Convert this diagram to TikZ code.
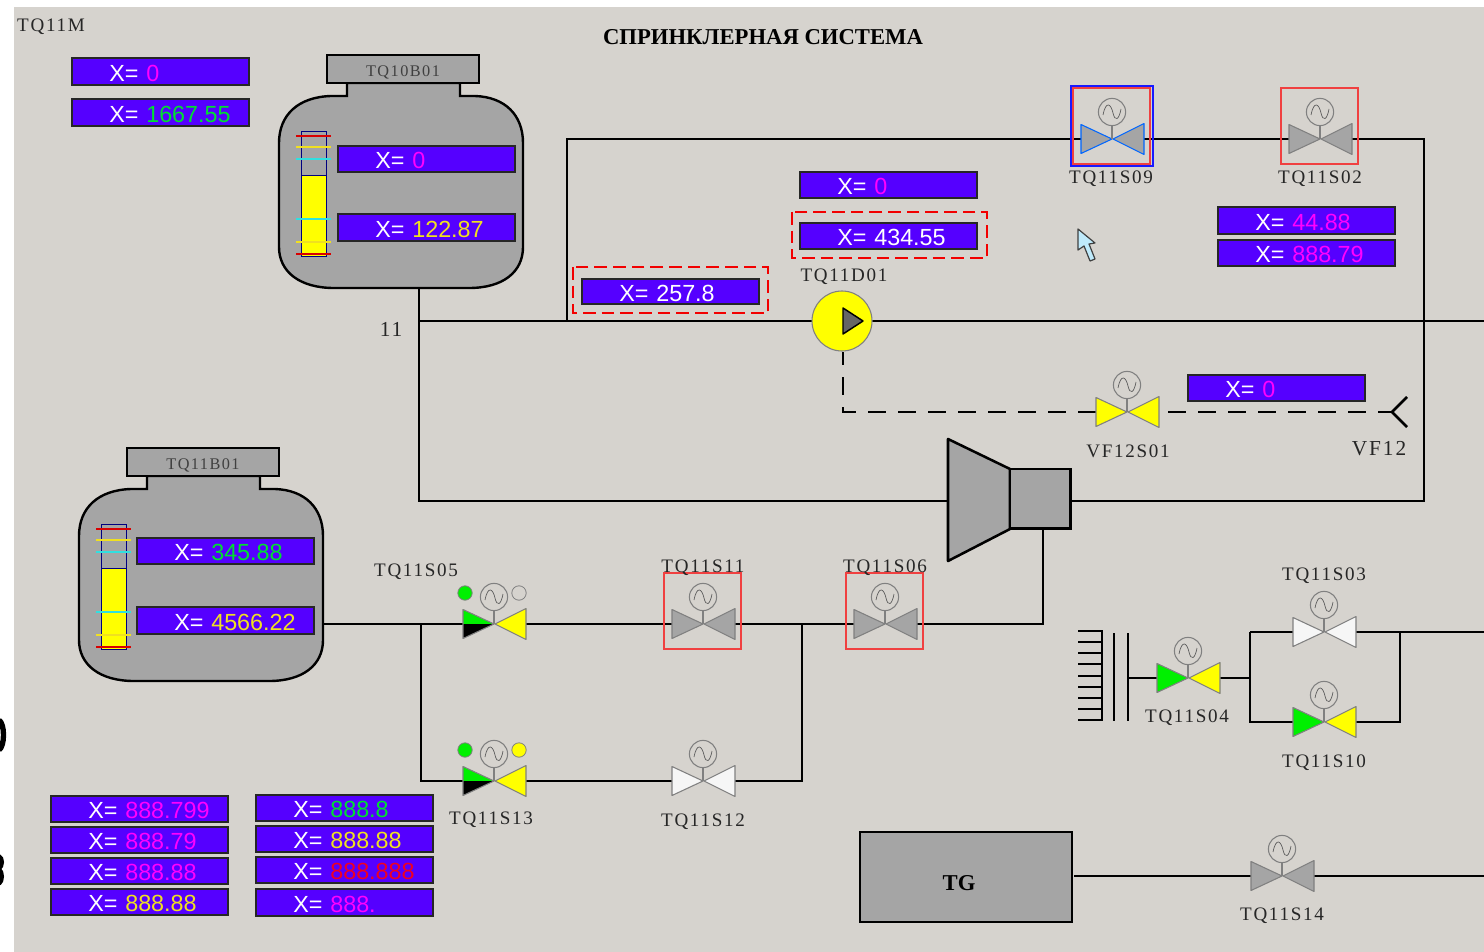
\documentclass[tikz,border=0pt]{standalone}
\usepackage{fontspec}
\setmainfont{Liberation Serif}
\newfontfamily\tagfont[LetterSpace=9]{Liberation Serif}
\newfontfamily\xfont{Liberation Sans}
\definecolor{bgc}{HTML}{D6D3CE}
\definecolor{xfill}{HTML}{5500FF}
\definecolor{gry}{HTML}{A5A5A5}
\definecolor{vline}{HTML}{808080}
\definecolor{mg}{HTML}{FF00FF}
\definecolor{gn}{HTML}{00E030}
\definecolor{yl}{HTML}{F0E020}
\definecolor{rd}{HTML}{F00020}
\definecolor{rbox}{HTML}{F04040}
\definecolor{wht}{HTML}{F6F6F6}
\definecolor{lvlc}{HTML}{30E0E0}
\definecolor{pureyl}{HTML}{FFFF00}
\definecolor{puregn}{HTML}{00F000}
\tikzset{
  x=0.75pt,y=-0.75pt,
  every node/.style={outer sep=0pt},
  pipe/.style={draw=black,line width=1.9pt},
  dashpipe/.style={draw=black,line width=1.9pt,dash pattern=on 13.5pt off 9pt},
  tag/.style={inner sep=0pt,yshift=-1.5pt,font=\tagfont\fontsize{14.3}{16}\selectfont,text=black!85},
  bigtag/.style={tag,font=\tagfont\fontsize{16}{18}\selectfont},
  xbox/.style={anchor=north west,draw=black!85,line width=0.8pt,fill=xfill,inner sep=0pt,
    text width=132.75pt,align=left,text=white,text height=14.6pt,text depth=0pt,
    font=\xfont\fontsize{17.5}{19}\selectfont},
  frame/.style={draw=rbox,line width=0.9pt},
  dashframe/.style={draw=red!95!black,line width=1.5pt,dash pattern=on 9.5pt off 4.5pt},
}
% \xb{name}{x}{ytop}{ybottom}{colour}{value}
\newcommand{\xb}[6]{\node[xbox,minimum height=(#4-#3)*0.75pt] (#1) at (#2,#3)
  {\hspace*{28pt}X=\ \textcolor{#5}{#6}};}
% pipe end points of a valve
\newcommand{\vpos}[3]{\coordinate (#1) at (#2,#3);
  \coordinate (#1w) at (#2-31,#3); \coordinate (#1e) at (#2+32,#3);}
% \valve{name}{left top}{left bottom}{right}{outline}
\newcommand{\valve}[5]{\begin{scope}[shift={(#1)}]
  \fill[#2] (-31,-14.5) -- (0,0) -- (-31,0) -- cycle;
  \fill[#3] (-31,14.5) -- (0,0) -- (-31,0) -- cycle;
  \fill[#4] (32,-15.5) -- (1,0) -- (32,15.5) -- cycle;
  \draw[#5,line width=0.8pt,line join=round] (-31,-14.5) -- (0,0) -- (-31,14.5) -- cycle;
  \draw[#5,line width=0.8pt,line join=round] (32,-15.5) -- (1,0) -- (32,15.5) -- cycle;
  \draw[vline,line width=0.8pt] (0,-13) -- (0,0);
  \draw[vline,line width=0.8pt] (0,-27) circle[radius=10.2pt];
  \draw[black!65,line width=0.5pt] (-9,-24) .. controls (-6,-39) and (-1,-35) .. (1,-26)
     .. controls (3,-17) and (7,-19) .. (9,-30);
  \end{scope}}
% \tank{name}{dx}{dy}{label}
\newcommand{\tank}[4]{\begin{scope}[shift={(#2,#3)}]
  \draw[black,line width=1.8pt,fill=gry] (347,83) -- (347,96) -- (331,96)
    .. controls (298,97) and (279,115) .. (279,143) -- (279,247)
    .. controls (279,272) and (300,288) .. (334,288) -- (469,288)
    .. controls (503,288) and (523,272) .. (523,247) -- (523,143)
    .. controls (523,115) and (505,97) .. (475,96) -- (460,96) -- (460,83) -- cycle;
  \node[draw=black,line width=1.8pt,fill=gry,anchor=north west,minimum width=114pt,minimum height=21pt,
    inner sep=0pt,text height=11.9pt,text depth=0pt,font=\tagfont\fontsize{12.2}{14}\selectfont,text=black!75] (#1) at (327,55) {#4};
  \fill[gry] (301,131) rectangle (326,256);
  \fill[pureyl] (301,175) rectangle (326,256);
  \draw[blue!50!black,line width=0.7pt] (301,131) rectangle (326,256) (301,175) -- (326,175);
  \draw[red!85!black,line width=0.8pt] (296,136) -- (331,136) (296,254) -- (331,254);
  \draw[yl,line width=0.8pt] (296,147) -- (331,147) (296,242) -- (331,242);
  \draw[lvlc,line width=0.8pt] (296,159) -- (331,159) (296,219) -- (331,219);
  \end{scope}}
\begin{document}
\begin{tikzpicture}
\useasboundingbox (0,0) rectangle (1484,952);
\fill[bgc] (14,7) rectangle (1484,952);

% cropped glyph remains at the left margin
\draw[black,line width=4pt] (-1,720) .. controls (5,724) and (5,746) .. (-1,750);
\draw[black,line width=3pt] (-1,856) .. controls (3,858) and (3,866) .. (-1,869)
   .. controls (3,872) and (3,881) .. (-1,884);

% positions
\vpos{S09}{1112}{139}\vpos{S02}{1320}{139}\vpos{VF}{1127}{412}
\vpos{S05}{494}{624}\vpos{S11}{703}{624}\vpos{S06}{885}{624}
\vpos{S13}{494}{781}\vpos{S12}{703}{781}
\vpos{S03}{1324}{632}\vpos{S10}{1324}{722}\vpos{S04}{1188}{678}\vpos{S14}{1282}{876}
\coordinate (t1out) at (419,288);
\coordinate (j11) at (419,321);
\coordinate (jbot) at (419,501);
\coordinate (loopa) at (567,321);
\coordinate (loopb) at (567,139);
\coordinate (loopc) at (1424,139);
\coordinate (loopd) at (1424,501);
\coordinate (rightA) at (1484,321);
\coordinate (t2out) at (323,624);
\coordinate (j421) at (421,624);
\coordinate (j421b) at (421,781);
\coordinate (j802) at (802,624);
\coordinate (j802b) at (802,781);
\coordinate (tbdown) at (1043,528);
\coordinate (tbcorner) at (1043,624);
\coordinate (vfend) at (1392,412);
\coordinate (vfa) at (1407,397);
\coordinate (vfb) at (1407,427);
\coordinate (pumpdn) at (843,352);
\coordinate (pumpcorner) at (843,412);
\coordinate (turbL) at (948,501);
\coordinate (turbR) at (1070,501);
\coordinate (j1250a) at (1250,632);
\coordinate (j1250m) at (1250,678);
\coordinate (j1250b) at (1250,722);
\coordinate (j1400a) at (1400,632);
\coordinate (j1400b) at (1400,722);
\coordinate (rightB) at (1484,632);
\coordinate (rightC) at (1484,876);
\coordinate (wall) at (1128,678);
\coordinate (tgR) at (1074,876);

% pipes
\draw[pipe] (t1out) -- (jbot) -- (turbL);
\draw[pipe] (j11) -- (rightA);
\draw[pipe] (loopa) -- (loopb) -- (S09w);
\draw[pipe] (S09e) -- (S02w);
\draw[pipe] (S02e) -- (loopc) -- (loopd) -- (turbR);
\draw[dashpipe,dash phase=3.75pt] (pumpdn) -- (pumpcorner) -- (VFw);
\draw[dashpipe,dash phase=15.75pt] (VFe) -- (vfend);
\draw[pipe] (vfa) -- (vfend) -- (vfb);
\draw[pipe] (tbdown) -- (tbcorner) -- (S06e);
\draw[pipe] (S06w) -- (S11e);
\draw[pipe] (S11w) -- (S05e);
\draw[pipe] (S05w) -- (t2out);
\draw[pipe] (j421) -- (j421b) -- (S13w);
\draw[pipe] (S13e) -- (S12w);
\draw[pipe] (S12e) -- (j802b) -- (j802);
\draw[pipe] (wall) -- (S04w);
\draw[pipe] (S04e) -- (j1250m);
\draw[pipe] (j1250a) -- (j1250b) -- (S10w);
\draw[pipe] (j1250a) -- (S03w);
\draw[pipe] (S03e) -- (rightB);
\draw[pipe] (S10e) -- (j1400b) -- (j1400a);
\draw[pipe] (tgR) -- (S14w);
\draw[pipe] (S14e) -- (rightC);

% condenser / wall
\draw[pipe] (1078,631) -- (1102,631) -- (1102,720) -- (1078,720);
\foreach \yy in {642,653,664,676,687,698,709} \draw[pipe] (1078,\yy) -- (1102,\yy);
\draw[pipe] (1114,633) -- (1114,721);
\draw[pipe] (1128,633) -- (1128,721);

% tanks
\tank{TQ10B}{0}{0}{TQ10B01}
\tank{TQ11B}{-200}{393}{TQ11B01}

% pump
\node[circle,draw=vline,line width=0.8pt,fill=pureyl,minimum size=45pt,inner sep=0pt] (pump) at (842,321) {};
\draw[black,line width=1.1pt,fill=black!60,line join=round] (843,308) -- (863,321) -- (843,334) -- cycle;

% turbine
\draw[black,line width=1.9pt,fill=gry,line join=round] (948,439) -- (1010,469) -- (1010,529) -- (948,561) -- cycle;
\node[draw=black,line width=1.8pt,fill=gry,anchor=north west,minimum width=45.5pt,minimum height=44.5pt,inner sep=0pt] (gen) at (1010,469) {};

% TG
\node[draw=black,line width=1.8pt,fill=gry,anchor=north west,minimum width=159pt,minimum height=67.5pt,inner sep=0pt,
   text height=20.3pt,text depth=0pt,font=\bfseries\fontsize{17}{19}\selectfont] (TG) at (860,832) {TG\kern10.5pt\null};

% valves
\valve{S09}{gry}{gry}{gry}{blue!60!cyan}
\valve{S02}{gry}{gry}{gry}{vline}
\valve{VF}{pureyl}{pureyl}{pureyl}{vline}
\valve{S05}{puregn}{black}{pureyl}{vline}
\valve{S11}{gry}{gry}{gry}{vline}
\valve{S06}{gry}{gry}{gry}{vline}
\valve{S13}{puregn}{black}{pureyl}{vline}
\valve{S12}{wht}{wht}{wht}{vline}
\valve{S03}{wht}{wht}{wht}{vline}
\valve{S10}{puregn}{puregn}{pureyl}{vline}
\valve{S04}{puregn}{puregn}{pureyl}{vline}
\valve{S14}{gry}{gry}{gry}{vline}

% lamps
\draw[vline,fill=puregn,line width=0.6pt] (465,593) circle[radius=5.4pt];
\draw[vline,line width=0.6pt] (519,593) circle[radius=5.4pt];
\draw[vline,fill=puregn,line width=0.6pt] (465,750) circle[radius=5.4pt];
\draw[vline,fill=pureyl,line width=0.6pt] (519,750) circle[radius=5.4pt];

% selection frames
\draw[blue!90!white,line width=0.9pt] (1071,86) rectangle (1153,166);
\draw[frame] (1073,88) rectangle (1150,164);
\draw[frame] (1281,88) rectangle (1358,164);
\draw[frame] (664,573) rectangle (741,649);
\draw[frame] (846,573) rectangle (923,649);
\draw[dashframe] (573,267) rectangle (768,313);
\draw[dashframe] (792,212) rectangle (987,258);

% value boxes
\xb{b1}{72}{58}{85}{mg}{0}
\xb{b2}{72}{99}{126}{gn}{1667.55}
\xb{b3}{338}{146}{172}{mg}{0}
\xb{b4}{338}{214}{241}{yl}{122.87}
\xb{b5}{137}{538}{564}{gn}{345.88}
\xb{b6}{137}{607}{634}{yl}{4566.22}
\xb{b7}{800}{172}{198}{mg}{0}
\xb{b8}{800}{223}{249}{white}{434.55}
\xb{b9}{582}{279}{304}{white}{257.8}
\xb{b10}{1218}{207}{234}{mg}{44.88}
\xb{b11}{1218}{240}{266}{mg}{888.79}
\xb{b12}{1188}{375}{401}{mg}{0}
\xb{c1}{51}{796}{822}{mg}{888.799}
\xb{c2}{51}{827}{853}{mg}{888.79}
\xb{c3}{51}{858}{884}{mg}{888.88}
\xb{c4}{51}{889}{915}{yl}{888.88}
\xb{d1}{256}{795}{821}{gn}{888.8}
\xb{d2}{256}{826}{852}{yl}{888.88}
\xb{d3}{256}{857}{883}{rd}{888.888}
\xb{d4}{256}{889}{916}{mg}{888.}

% labels
\node[font=\bfseries\fontsize{17}{20}\selectfont] (title) at (763,37) {СПРИНКЛЕРНАЯ СИСТЕМА};
\node[tag] (lM) at (51,25) {TQ11M};
\node[bigtag] (l11) at (391,327) {11};
\node[tag] (lD01) at (844,275) {TQ11D01};
\node[tag] (lS09) at (1111,177) {TQ11S09};
\node[tag] (lS02) at (1320,177) {TQ11S02};
\node[tag] (lVF) at (1128,449) {VF12S01};
\node[bigtag] (lVF12) at (1379,447) {VF12};
\node[tag] (lS05) at (416,570) {TQ11S05};
\node[tag] (lS11) at (703,566) {TQ11S11};
\node[tag] (lS06) at (885,566) {TQ11S06};
\node[tag] (lS13) at (491,818) {TQ11S13};
\node[tag] (lS12) at (703,820) {TQ11S12};
\node[tag] (lS03) at (1324,574) {TQ11S03};
\node[tag] (lS04) at (1187,716) {TQ11S04};
\node[tag] (lS10) at (1324,761) {TQ11S10};
\node[tag] (lS14) at (1282,914) {TQ11S14};

% cursor
\draw[black!75,fill=cyan!25!white,line width=0.9pt,line join=round]
  (1078,229) -- (1078,250) -- (1084,246) -- (1090,261) -- (1095,259) -- (1089,244) -- (1095,243) -- cycle;
\end{tikzpicture}
\end{document}
